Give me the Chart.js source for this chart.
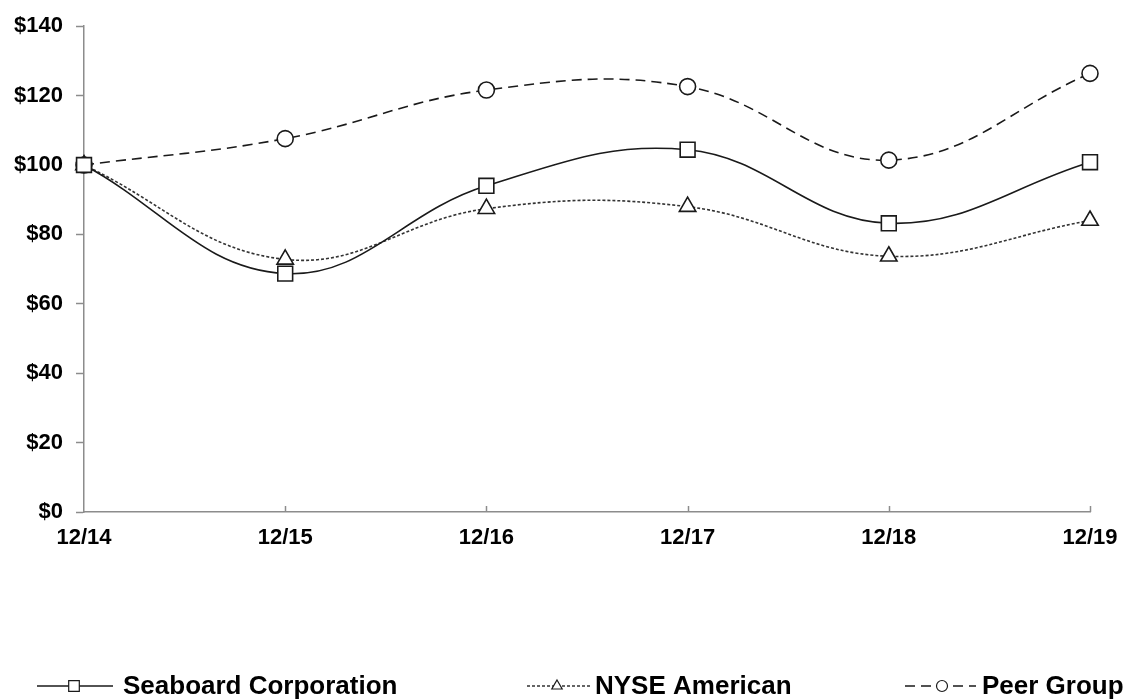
<!DOCTYPE html>
<html>
<head>
<meta charset="utf-8">
<script src="https://cdn.jsdelivr.net/npm/chart.js@4.4.0/dist/chart.umd.min.js"></script>
<style>
  html, body { margin: 0; padding: 0; background: #ffffff; }
  #wrap { width: 1133px; height: 700px; position: relative; }
</style>
</head>
<body>
<div id="wrap"><canvas id="c" width="1133" height="700"></canvas></div>
<script>
const categories = ['12/14', '12/15', '12/16', '12/17', '12/18', '12/19'];
const seaboard = [100, 68.7, 94.0, 104.4, 83.2, 100.8];
const nyseAmerican = [100, 72.8, 87.4, 88.0, 73.7, 84.0];
const peerGroup = [100, 107.6, 121.6, 122.6, 101.4, 126.4];
const seriesNames = ['Seaboard Corporation', 'NYSE American', 'Peer Group'];
const yTicks = [0, 20, 40, 60, 80, 100, 120, 140];

const FONT = '"Liberation Sans", Arial, sans-serif';
const AXIS = '#8c8c8c';

const upTicks = {
  id: 'upTicks',
  afterDatasetsDraw(chart) {
    const ctx = chart.ctx, x = chart.scales.x, area = chart.chartArea;
    ctx.save();
    ctx.strokeStyle = AXIS;
    ctx.lineWidth = 1.5;
    for (let i = 1; i < categories.length; i++) {
      const px = Math.round(x.getPixelForTick(i)) + 0.5;
      ctx.beginPath();
      ctx.moveTo(px, area.bottom);
      ctx.lineTo(px, area.bottom - 6);
      ctx.stroke();
    }
    ctx.restore();
  }
};

const legendPos = [
  { x1: 37, x2: 113, m: 74, tx: 123 },
  { x1: 527, x2: 590, m: 557, tx: 595 },
  { x1: 905, x2: 976, m: 942, tx: 982 }
];

const customLegend = {
  id: 'customLegend',
  afterDraw(chart) {
    const ctx = chart.ctx;
    const ly = 686;
    chart.data.datasets.forEach((ds, i) => {
      const p = legendPos[i];
      ctx.save();
      ctx.strokeStyle = ds.borderColor;
      ctx.lineWidth = 1.5;
      ctx.setLineDash(ds.borderDash || []);
      ctx.beginPath();
      ctx.moveTo(p.x1, ly);
      ctx.lineTo(p.x2, ly);
      ctx.stroke();
      ctx.setLineDash([]);
      ctx.fillStyle = '#ffffff';
      ctx.strokeStyle = '#1a1a1a';
      ctx.lineWidth = 1.2;
      Chart.helpers.drawPoint(ctx, { pointStyle: ds.pointStyle, radius: ds.legendRadius, borderWidth: 1.2 }, p.m, ly);
      ctx.fillStyle = '#000000';
      ctx.font = 'bold 26px ' + FONT;
      ctx.textBaseline = 'alphabetic';
      ctx.textAlign = 'left';
      ctx.fillText(ds.label, p.tx, 694);
      ctx.restore();
    });
  }
};

new Chart(document.getElementById('c'), {
  type: 'line',
  data: {
    labels: categories,
    datasets: [
      {
        label: seriesNames[0], data: seaboard,
        borderColor: '#1a1a1a', borderWidth: 1.6, tension: 0.4,
        pointStyle: 'rect', pointRadius: 10.5, pointBorderWidth: 1.6,
        pointBackgroundColor: '#ffffff', pointBorderColor: '#1a1a1a',
        legendRadius: 7.5, fill: false
      },
      {
        label: seriesNames[1], data: nyseAmerican,
        borderColor: '#333333', borderWidth: 1.6, borderDash: [3, 2], tension: 0.4,
        pointStyle: 'triangle', pointRadius: 9.5, pointBorderWidth: 1.6,
        pointBackgroundColor: '#ffffff', pointBorderColor: '#1a1a1a',
        legendRadius: 6, fill: false
      },
      {
        label: seriesNames[2], data: peerGroup,
        borderColor: '#1a1a1a', borderWidth: 1.6, borderDash: [10, 6], tension: 0.4,
        pointStyle: 'circle', pointRadius: 8, pointBorderWidth: 1.6,
        pointBackgroundColor: '#ffffff', pointBorderColor: '#1a1a1a',
        legendRadius: 5.5, fill: false
      }
    ]
  },
  options: {
    responsive: false,
    animation: false,
    devicePixelRatio: 1,
    layout: { padding: { left: 0, right: 43, top: 25, bottom: 148 } },
    plugins: {
      legend: { display: false },
      tooltip: { enabled: false },
      title: { display: false }
    },
    scales: {
      x: {
        type: 'category',
        offset: false,
        grid: { display: true, drawOnChartArea: false, drawTicks: false, color: AXIS },
        border: { display: true, color: AXIS, width: 1.5 },
        ticks: {
          color: '#000000', padding: 13, maxRotation: 0, autoSkip: false,
          font: { family: FONT, size: 22, weight: 'bold' }
        },
        afterFit(scale) { scale.height = 40; }
      },
      y: {
        min: 0, max: 140,
        afterBuildTicks(scale) { scale.ticks = yTicks.map(v => ({ value: v })); },
        grid: { display: true, drawOnChartArea: false, drawTicks: true, tickLength: 8, color: AXIS, tickWidth: 1.5 },
        border: { display: true, color: AXIS, width: 1.5 },
        ticks: {
          color: '#000000', padding: 13,
          font: { family: FONT, size: 22, weight: 'bold' },
          callback: v => '$' + v
        },
        afterFit(scale) { scale.width = 84; }
      }
    }
  },
  plugins: [upTicks, customLegend]
});
</script>
</body>
</html>
